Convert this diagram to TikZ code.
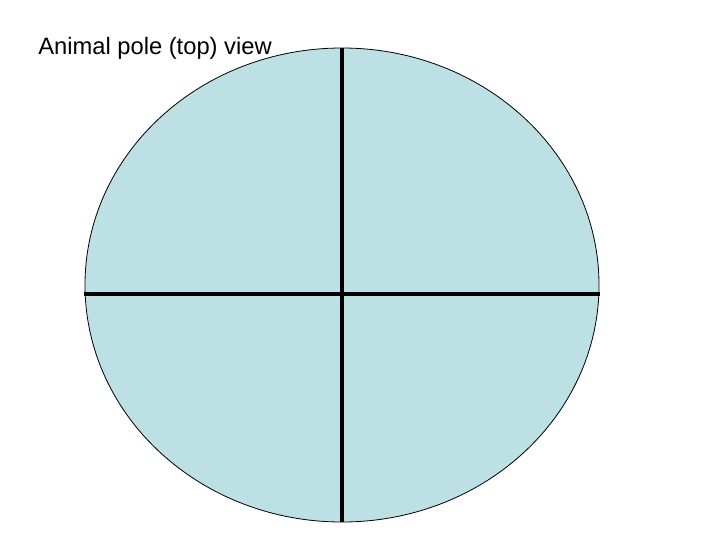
\documentclass[tikz,border=0pt]{standalone}
\usepackage{fontspec}
\setmainfont{Liberation Sans}
\usepackage{tikz}
\definecolor{egg}{RGB}{188,224,228}

\begin{document}
\begin{tikzpicture}[
    x=0.75pt,y=0.75pt,cleave/.style={black,line width=2.6pt}
    ]
    \useasboundingbox (0, 0) rectangle (720, 540);
    \draw[fill=egg, line width=0.6pt] (342, 255) ellipse [x radius=257, y radius=237];
    \coordinate (top) at (342, 492);
    \coordinate (bottom) at (342, 18);
    \coordinate (left) at (84, 246);
    \coordinate (right) at (600, 246);
    \draw[cleave] (top) -- (bottom);
    \draw[cleave] (left) -- (right);
    \node[anchor=base west, inner sep=0pt, font=\fontsize{17.8}{20}\selectfont] (title) at (38, 485) {Animal pole (top) view};
  \end{tikzpicture}
\end{document}
